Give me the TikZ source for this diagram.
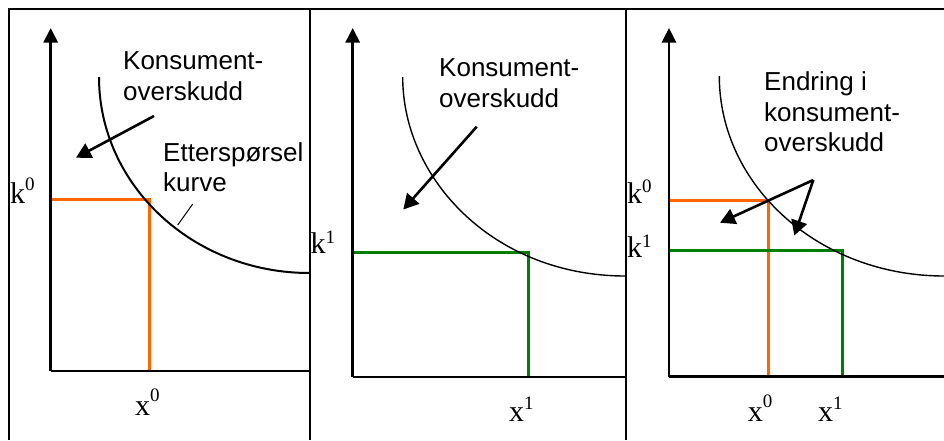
\documentclass[tikz,border=0pt]{standalone}
\usepackage{fontspec}
\setmainfont{Liberation Sans}
\newfontfamily\serifm{Liberation Serif}
\usetikzlibrary{arrows.meta}
\definecolor{priceorange}{RGB}{255,102,0}
\definecolor{pricegreen}{RGB}{0,128,0}
\newcommand{\mlab}[3]{{\serifm\fontsize{30}{30}\selectfont #1\raisebox{#3pt}{\fontsize{19}{19}\selectfont #2}}}
\begin{document}
\begin{tikzpicture}[x=1pt,y=-1pt,
  frame/.style={line width=2pt,black},
  axis/.style={line width=2.7pt,black,-{Triangle[length=14.5pt,width=14pt]}},
  baseaxis/.style={line width=2.7pt,black},
  curvethick/.style={line width=2pt,black},
  curvethin/.style={line width=1.4pt,black},
  oline/.style={line width=3pt,priceorange},
  gline/.style={line width=3pt,pricegreen},
  pointer/.style={line width=2.6pt,black,-{Triangle[length=15pt,width=16pt]}},
  leader/.style={line width=1pt,black},
  lbl/.style={font=\fontsize{26}{30.5}\selectfont,align=left,inner sep=0pt,anchor=north west},
  mlbl/.style={inner sep=0pt,anchor=base west}
]
\useasboundingbox (0,0) rectangle (944,440);

% frames
\draw[frame] (9,440) -- (9,9) -- (944,9);
\draw[frame] (309.5,9) -- (309.5,440);
\draw[frame] (625.5,9) -- (625.5,440);

% ---------- panel 1 ----------
\coordinate (o1) at (50.7,371);
\coordinate (yt1) at (50.7,28);
\coordinate (xe1) at (309.5,371);
\coordinate (ok1) at (50.7,199.5);
\coordinate (oc1) at (149,199.5);
\coordinate (ob1) at (149,371);
\draw[oline] (ok1) -- (oc1) -- (ob1);
\draw[curvethick] (99,77) .. controls (99,185.2) and (193,273) .. (309.5,273);
\draw[baseaxis] (o1) -- (xe1);
\draw[axis] (o1) -- (yt1);
\node[lbl] (ks1) at (123,51.5) {Konsument-\\overskudd};
\node[lbl] (dem1) at (163,142.3) {Etterspørsel\\kurve};
\coordinate (ls1) at (192.7,204);
\coordinate (le1) at (177.7,225);
\draw[leader] (ls1) -- (le1);
\coordinate (ps1) at (154,116);
\coordinate (pe1) at (76,157.7);
\draw[pointer] (ps1) -- (pe1);
\node[mlbl] (k0a) at (10,203) {\mlab{k}{0}{13}};
\node[mlbl] (x0a) at (135,415) {\mlab{x}{0}{14}};

% ---------- panel 2 ----------
\coordinate (o2) at (352.7,377);
\coordinate (yt2) at (352.7,28);
\coordinate (xe2) at (625.5,377);
\coordinate (gk2) at (352.7,252.7);
\coordinate (gc2) at (528.3,252.7);
\coordinate (gb2) at (528.3,377);
\draw[gline] (gk2) -- (gc2) -- (gb2);
\draw[curvethin] (402.7,77) .. controls (402.7,180) and (495,276) .. (625.5,276);
\draw[baseaxis] (o2) -- (xe2);
\draw[axis] (o2) -- (yt2);
\node[lbl] (ks2) at (439,58.7) {Konsument-\\overskudd};
\coordinate (ps2) at (476.7,126.7);
\coordinate (pe2) at (403.3,209.5);
\draw[pointer] (ps2) -- (pe2);
\node[mlbl] (k1b) at (310.5,253.3) {\mlab{k}{1}{10}};
\node[mlbl] (x1b) at (509,421.7) {\mlab{x}{1}{12}};

% ---------- panel 3 ----------
\coordinate (o3) at (669,376.7);
\coordinate (yt3) at (669,28);
\coordinate (xe3) at (944,376.7);
\coordinate (ok3) at (669,200.7);
\coordinate (oc3) at (768.3,200.7);
\coordinate (ob3) at (768.3,376.7);
\coordinate (gk3) at (669,250.7);
\coordinate (gc3) at (842.7,250.7);
\coordinate (gb3) at (842.7,376.7);
\draw[oline] (ok3) -- (oc3) -- (ob3);
\draw[gline] (gk3) -- (gc3) -- (gb3);
\draw[curvethin] (719.3,76) .. controls (719.3,186.5) and (819.9,276) .. (944,276);
\draw[baseaxis] (o3) -- (xe3);
\draw[axis] (o3) -- (yt3);
\node[lbl] (ks3) at (764,71.7) {Endring i\\konsument-\\overskudd};
\coordinate (ap3) at (813.3,180);
\coordinate (pa3) at (720,222.7);
\coordinate (pb3) at (794.3,235.5);
\draw[pointer] (ap3) -- (pa3);
\draw[pointer] (ap3) -- (pb3);
\node[mlbl] (k0c) at (627,203) {\mlab{k}{0}{11}};
\node[mlbl] (k1c) at (627,257.7) {\mlab{k}{1}{10}};
\node[mlbl] (x0c) at (747.7,421.7) {\mlab{x}{0}{14}};
\node[mlbl] (x1c) at (818,421.7) {\mlab{x}{1}{12}};
\end{tikzpicture}
\end{document}
